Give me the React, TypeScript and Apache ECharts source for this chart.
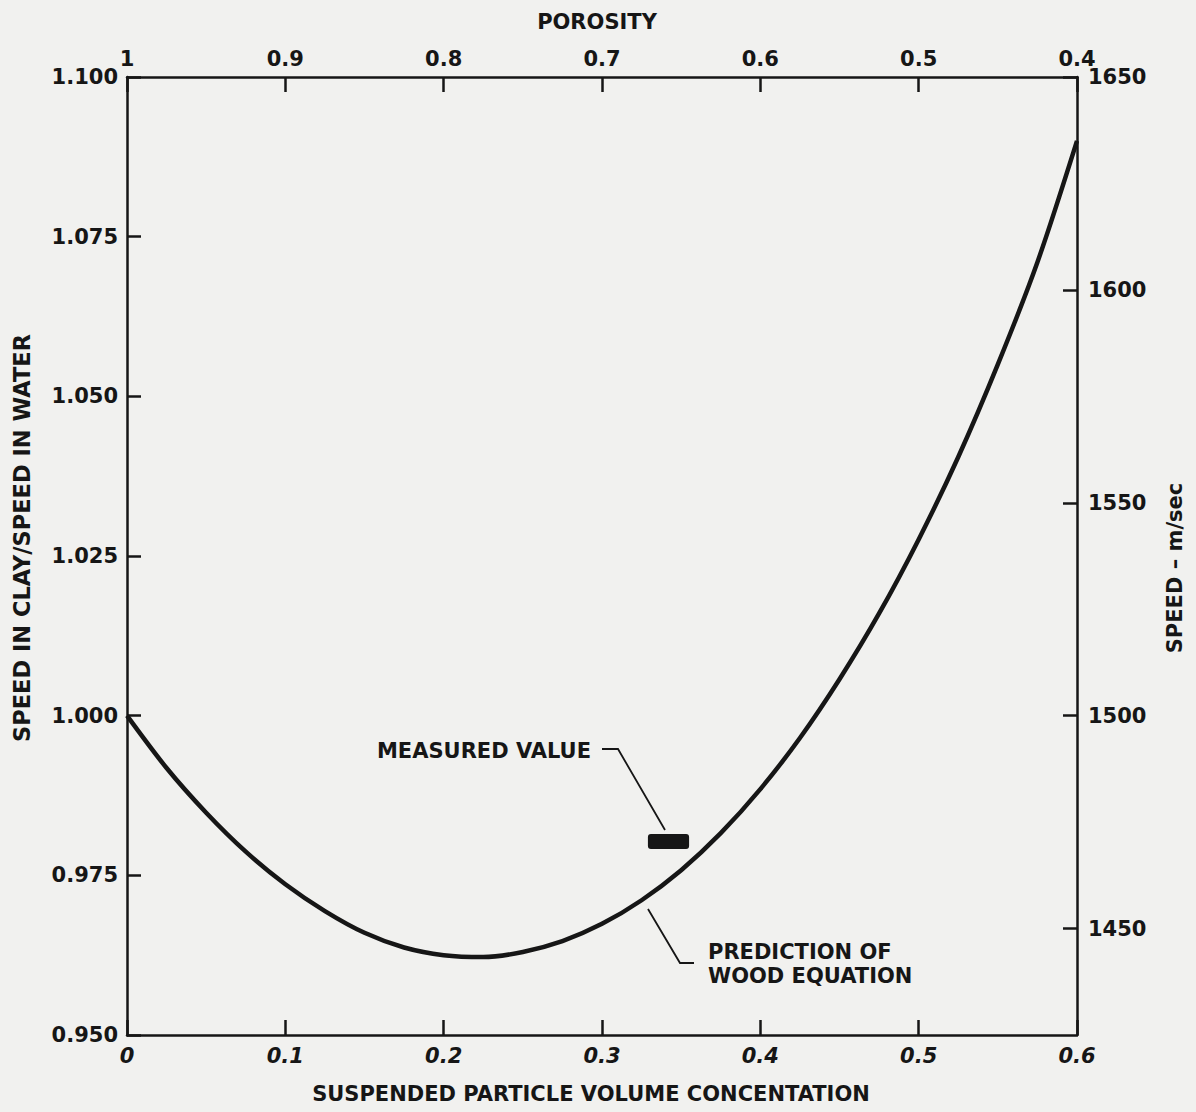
import React, { useEffect, useRef } from "react";
import * as echarts from "echarts";

// Suspended particle volume concentration (fraction)
const concentration = [
  0, 0.025, 0.05, 0.075, 0.1, 0.125, 0.15, 0.175, 0.2, 0.225, 0.25, 0.275, 0.3,
  0.325, 0.35, 0.375, 0.4, 0.425, 0.45, 0.475, 0.5, 0.525, 0.55, 0.575, 0.6,
];

// Speed in clay / speed in water predicted by the Wood equation
const speedRatio = [
  1.0, 0.9918, 0.9848, 0.9787, 0.9736, 0.9694, 0.966, 0.9637, 0.9625, 0.9622,
  0.963, 0.9647, 0.9674, 0.9711, 0.9758, 0.9816, 0.9885, 0.9965, 1.0057, 1.016,
  1.0276, 1.0405, 1.055, 1.071, 1.09,
];

// Measured value: concentration range and speed ratio
const measuredFrom = [0.329];
const measuredTo = [0.355];
const measuredRatio = [0.9803];

// Right-hand axis labels, speed in m/sec
const speedTicks = [1450, 1500, 1550, 1600, 1650];

const FONT = "DejaVu Sans";
const INK = "#161616";

export default function App() {
  const ref = useRef<HTMLDivElement>(null);

  useEffect(() => {
    if (!ref.current) return;
    const chart = echarts.init(ref.current, null, { renderer: "svg" });

    const labelStyle = {
      fontFamily: FONT,
      fontWeight: "bold" as const,
      fontSize: 21,
      color: INK,
    };
    const lineStyle = { color: INK, width: 2.5 };

    chart.setOption({
      animation: false,
      backgroundColor: "#f1f1ef",
      grid: {
        left: 127,
        right: 119,
        top: 77,
        bottom: 77,
        containLabel: false,
        outerBoundsMode: "none",
      },
      xAxis: [
        {
          type: "value",
          position: "bottom",
          min: 0,
          max: 0.6,
          interval: 0.1,
          axisLine: { lineStyle },
          axisTick: { inside: true, length: 15, lineStyle },
          splitLine: { show: false },
          axisLabel: {
            ...labelStyle,
            fontStyle: "italic",
            margin: 10,
            formatter: (v: number) => (v === 0 ? "0" : v.toFixed(1)),
          },
        },
        {
          type: "value",
          position: "top",
          min: 0.4,
          max: 1,
          interval: 0.1,
          inverse: true,
          axisLine: { lineStyle },
          axisTick: { inside: true, length: 15, lineStyle },
          splitLine: { show: false },
          axisLabel: {
            ...labelStyle,
            margin: 8,
            formatter: (v: number) => (v > 0.999 ? "1" : v.toFixed(1)),
          },
        },
      ],
      yAxis: [
        {
          type: "value",
          position: "left",
          min: 0.95,
          max: 1.1,
          interval: 0.025,
          axisLine: { show: true, lineStyle },
          axisTick: { show: true, inside: true, length: 14, lineStyle },
          splitLine: { show: false },
          axisLabel: {
            ...labelStyle,
            margin: 9,
            formatter: (v: number) => v.toFixed(3),
          },
        },
        {
          type: "value",
          position: "right",
          min: 1425,
          max: 1650,
          axisLine: { show: true, lineStyle },
          axisTick: {
            show: true,
            inside: true,
            length: 14,
            lineStyle,
            customValues: speedTicks,
          },
          splitLine: { show: false },
          axisLabel: {
            ...labelStyle,
            margin: 11,
            customValues: speedTicks,
            formatter: (v: number) => String(Math.round(v)),
          },
        },
      ],
      series: [
        {
          name: "Prediction of Wood equation",
          type: "line",
          xAxisIndex: 0,
          yAxisIndex: 0,
          data: concentration.map((c, i) => [c, speedRatio[i]]),
          showSymbol: false,
          smooth: 0.3,
          lineStyle: { color: INK, width: 4.5 },
          z: 3,
        },
        {
          name: "Measured value",
          type: "custom",
          xAxisIndex: 0,
          yAxisIndex: 0,
          data: measuredRatio.map((r, i) => [measuredFrom[i], measuredTo[i], r]),
          encode: { x: [0, 1], y: 2 },
          renderItem: (_params: any, api: any) => {
            const a = api.coord([api.value(0), api.value(2)]);
            const b = api.coord([api.value(1), api.value(2)]);
            return {
              type: "rect",
              shape: { x: a[0], y: a[1] - 7.5, width: b[0] - a[0], height: 15, r: 3 },
              style: { fill: INK },
            };
          },
          z: 4,
        },
      ],
      graphic: [
        {
          type: "text",
          x: 597,
          y: 22,
          style: {
            text: "POROSITY",
            font: `bold 21px "${FONT}"`,
            fill: INK,
            align: "center",
            verticalAlign: "middle",
          },
        },
        {
          type: "text",
          x: 591,
          y: 1094,
          style: {
            text: "SUSPENDED PARTICLE VOLUME CONCENTATION",
            font: `bold 21px "${FONT}"`,
            fill: INK,
            align: "center",
            verticalAlign: "middle",
          },
        },
        {
          type: "text",
          x: 22,
          y: 538,
          rotation: Math.PI / 2,
          style: {
            text: "SPEED IN CLAY/SPEED IN WATER",
            font: `bold 22.5px "${FONT}"`,
            fill: INK,
            align: "center",
            verticalAlign: "middle",
          },
        },
        {
          type: "text",
          x: 1175,
          y: 568,
          rotation: Math.PI / 2,
          style: {
            text: "SPEED \u2013 m/sec",
            font: `bold 21px "${FONT}"`,
            fill: INK,
            align: "center",
            verticalAlign: "middle",
          },
        },
        {
          type: "text",
          x: 591,
          y: 751,
          style: {
            text: "MEASURED VALUE",
            font: `bold 21px "${FONT}"`,
            fill: INK,
            align: "right",
            verticalAlign: "middle",
          },
        },
        {
          type: "polyline",
          shape: { points: [[602, 749], [618, 749], [665, 830]] },
          style: { stroke: INK, lineWidth: 1.8, fill: "none" },
        },
        {
          type: "text",
          x: 708,
          y: 952,
          style: {
            text: "PREDICTION OF",
            font: `bold 21px "${FONT}"`,
            fill: INK,
            align: "left",
            verticalAlign: "middle",
          },
        },
        {
          type: "text",
          x: 708,
          y: 976,
          style: {
            text: "WOOD EQUATION",
            font: `bold 21px "${FONT}"`,
            fill: INK,
            align: "left",
            verticalAlign: "middle",
          },
        },
        {
          type: "polyline",
          shape: { points: [[648, 909], [680, 963], [694, 963]] },
          style: { stroke: INK, lineWidth: 1.8, fill: "none" },
        },
      ],
    });

    return () => chart.dispose();
  }, []);

  return (
    <div
      ref={ref}
      style={{ position: "fixed", left: 0, top: 0, width: 1196, height: 1112 }}
    />
  );
}
